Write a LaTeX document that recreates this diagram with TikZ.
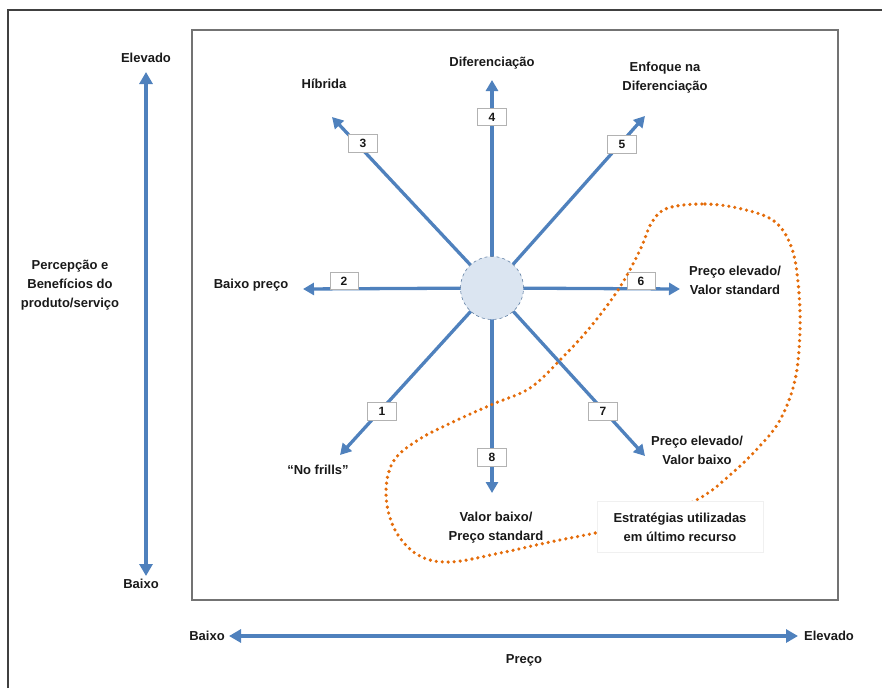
\documentclass[tikz,border=0pt]{standalone}
\usepackage{fontspec}
\setmainfont{Liberation Sans}
\usetikzlibrary{arrows.meta}
\definecolor{axblue}{RGB}{79,129,189}
\definecolor{dotor}{RGB}{228,108,10}
\definecolor{circfill}{RGB}{219,229,241}
\begin{document}
\begin{tikzpicture}[x=1pt,y=-1pt,
 lbl/.style={font=\fontsize{13}{19}\selectfont\bfseries, align=center, inner sep=0pt, text=black!90},
 spoke/.style={draw=axblue, line width=3.3pt, -{Triangle[length=11pt,width=12pt]}},
 numbox/.style={draw=gray!60, fill=white, line width=0.7pt, minimum width=29pt, minimum height=18pt, inner sep=0pt, font=\fontsize{12}{14}\selectfont\bfseries, text=black!90},
 axis/.style={draw=axblue, line width=3.8pt, {Triangle[length=12pt,width=13pt]}-{Triangle[length=12pt,width=13pt]}},
 note/.style={draw=gray!12, fill=white, minimum width=166pt, minimum height=51pt, inner sep=0pt, align=center, font=\fontsize{13}{19}\selectfont\bfseries, text=black!90}
]
\useasboundingbox (0,0) rectangle (882,688);
% frames
\draw[line width=1.5pt, black!75] (8,688) -- (8,10) -- (882,10);
\draw[line width=1.3pt, black!55] (192,30) rectangle (838,600);

% vertical axis
\coordinate (vt) at (146,72);
\coordinate (vb) at (146,576);
\draw[axis] (vb) -- (vt);
\node[lbl] (velev) at (146,58) {Elevado};
\node[lbl] (vbaixo) at (141,584) {Baixo};
\node[lbl] (vtitle) at (70,285) {Percepção e\\Benefícios do\\produto/serviço};

% horizontal axis
\coordinate (hl) at (229,636);
\coordinate (hr) at (798,636);
\draw[axis] (hl) -- (hr);
\node[lbl] (hbaixo) at (207,636) {Baixo};
\node[lbl] (helev) at (829,636) {Elevado};
\node[lbl] (htitle) at (524,660) {Preço};

% spokes
\coordinate (c0) at (492,288);
\coordinate (t1) at (340,455);
\coordinate (t2) at (303,289);
\coordinate (t3) at (332,117);
\coordinate (t4) at (492,80);
\coordinate (t5) at (645,116);
\coordinate (t6) at (680,289);
\coordinate (t7) at (645,456);
\coordinate (t8) at (492,493);
\foreach \i in {1,...,8} {\draw[spoke] (c0) -- (t\i);}

% number boxes
\node[numbox] (n1) at (382,411) {1};
\node[numbox, minimum width=28pt, minimum height=17pt] (n2) at (344,281) {2};
\node[numbox] (n3) at (363,143) {3};
\node[numbox, minimum height=17pt] (n4) at (492,117) {4};
\node[numbox] (n5) at (622,144) {5};
\node[numbox, minimum width=28pt, minimum height=17pt] (n6) at (641,281) {6};
\node[numbox] (n7) at (603,411) {7};
\node[numbox] (n8) at (492,457) {8};

% center circle
\node[circle, minimum size=63pt, inner sep=0pt, fill=circfill, draw=axblue!60!gray, dashed, line width=0.6pt] (c) at (c0) {};

% spoke labels
\node[lbl] (l4) at (492,63) {Diferenciação};
\node[lbl] (l3) at (324,84) {Híbrida};
\node[lbl] (l5) at (665,78) {Enfoque na\\Diferenciação};
\node[lbl] (l2) at (251,285) {Baixo preço};
\node[lbl] (l6) at (735,280) {Preço elevado/\\Valor standard};
\node[lbl] (l7) at (697,450) {Preço elevado/\\Valor baixo};
\node[lbl] (l1) at (318,470) {“No frills”};
\node[lbl] (l8) at (496,528) {Valor baixo/\\Preço standard};

% orange dotted loop
\draw[dotor, line width=3.6pt, line cap=round, dash pattern=on 0pt off 6pt]
  plot[smooth cycle, tension=0.6] coordinates {
  (668,208) (705,204) (742,209) (774,221) (791,246) (798,282) (800,330) (795,380)
  (780,420) (758,448) (730,475) (700,498) (650,520) (600,532) (550,542) (500,553)
  (450,562) (418,555) (395,530) (386,495) (393,462) (418,440) (455,421) (493,404)
  (530,388) (562,358) (592,325) (620,287) (640,250) (652,222)};

\node[note] (last) at (680,527) {Estratégias utilizadas\\em último recurso};
\end{tikzpicture}
\end{document}
